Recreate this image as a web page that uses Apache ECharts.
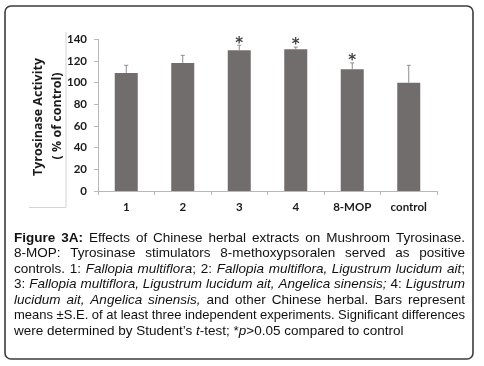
<!DOCTYPE html>
<html><head><meta charset="utf-8">
<script src="https://cdn.jsdelivr.net/npm/echarts@6/dist/echarts.min.js"></script>
<style>html,body{margin:0;padding:0;background:#fff}#c{width:484px;height:366px}</style>
</head><body><div id="c"></div>
<script>
var categories = ['1', '2', '3', '4', '8-MOP', 'control'];
var means = [109, 118.2, 129.9, 130.8, 112.4, 100];
var errors = [7, 7, 4.6, 2, 5.8, 16];
var sig = ['', '', '*', '*', '*', ''];
var yTicks = [0, 20, 40, 60, 80, 100, 120, 140];
var yTitle1 = 'Tyrosinase Activity';
var yTitle2 = '( % of control)';

var captionLines = [
  [['b', 'Figure 3A:'], ['n', ' Effects of Chinese herbal extracts on Mushroom Tyrosinase.']],
  [['n', '8-MOP: Tyrosinase stimulators 8-methoxypsoralen served as positive']],
  [['n', 'controls. 1: '], ['i', 'Fallopia multiflora'], ['n', '; 2: '], ['i', 'Fallopia multiflora, Ligustrum lucidum ait'], ['n', ';']],
  [['n', '3: '], ['i', 'Fallopia multiflora, Ligustrum lucidum ait, Angelica sinensis;'], ['n', ' 4: '], ['i', 'Ligustrum']],
  [['i', 'lucidum ait, Angelica sinensis,'], ['n', ' and other Chinese herbal. Bars represent']],
  [['n', 'means \u00b1S.E. of at least three independent experiments. Significant differences']],
  [['n', 'were determined by Student\u2019s '], ['i', 't'], ['n', '-test; *'], ['i', 'p'], ['n', '>0.05 compared to control']]
];

var CAP_FONT = 'Liberation Sans';
var CAP_SIZE = 13.5;
var capX0 = 14, capX1 = 465, capY0 = 238, capDY = 15.5;

var cnv = document.createElement('canvas');
var ctx = cnv.getContext('2d');
function fontStr(st, size) {
  return (st === 'i' ? 'italic ' : '') + (st === 'b' ? 'bold ' : '') + size + 'px "' + CAP_FONT + '"';
}
function measure(t, st, size) { ctx.font = fontStr(st, size); return ctx.measureText(t).width; }

var graphics = [];
captionLines.forEach(function (runs, li) {
  var words = [[]];
  runs.forEach(function (r) {
    var parts = r[1].split(' ');
    parts.forEach(function (p, k) {
      if (k > 0) words.push([]);
      if (p.length) words[words.length - 1].push([r[0], p]);
    });
  });
  words = words.filter(function (w) { return w.length; });
  var last = li === captionLines.length - 1;
  var size = CAP_SIZE, widths, total, gap;
  for (var iter = 0; iter < 20; iter++) {
    widths = words.map(function (w) {
      return w.reduce(function (s, pc) { return s + measure(pc[1], pc[0], size); }, 0);
    });
    total = widths.reduce(function (a, b) { return a + b; }, 0);
    gap = last ? measure(' ', 'n', size) : (capX1 - capX0 - total) / (words.length - 1);
    if (last || gap >= 3.3) break;
    size -= 0.1;
  }
  var x = capX0;
  var y = capY0 + li * capDY;
  words.forEach(function (w, wi) {
    var px = x;
    w.forEach(function (pc) {
      graphics.push({
        type: 'text', x: px, y: y, silent: true,
        style: {
          text: pc[1], x: 0, y: 0, fill: '#111',
          font: fontStr(pc[0], size),
          verticalAlign: 'middle', align: 'left'
        }
      });
      px += measure(pc[1], pc[0], size);
    });
    x += widths[wi] + gap;
  });
});

graphics.push({
  type: 'rect', silent: true,
  shape: { x: 5, y: 6, width: 468, height: 353, r: 6 },
  style: { fill: 'none', stroke: '#3c3c3c', lineWidth: 1.6 }
});
graphics.push({ type: 'polyline', silent: true, shape: { points: [[66, 32], [66, 207.5], [29, 207.5]] }, style: { fill: 'none', stroke: '#d4d4d4', lineWidth: 1 } });
graphics.push({
  type: 'text', x: 38, y: 117, rotation: Math.PI / 2, silent: true,
  style: { text: yTitle1, x: 0, y: 0, align: 'center', verticalAlign: 'middle', fill: '#1a1a1a', font: 'bold 12.5px "Open Sans"' }
});
graphics.push({
  type: 'text', x: 57, y: 116, rotation: Math.PI / 2, silent: true,
  style: { text: yTitle2, x: 0, y: 0, align: 'center', verticalAlign: 'middle', fill: '#1a1a1a', font: 'bold 12.5px "Open Sans"' }
});

var chart = echarts.init(document.getElementById('c'), null, { renderer: 'canvas' });
var option = {
  animation: false,
  backgroundColor: '#fff',
  grid: { left: 98, right: 47, top: 39.3, bottom: 175, containLabel: false },
  xAxis: {
    type: 'category', data: categories,
    axisLine: { lineStyle: { color: '#b8b8b8', width: 1 } },
    axisTick: { show: true, length: 4, lineStyle: { color: '#b8b8b8' } },
    axisLabel: { color: '#1a1a1a', fontFamily: 'Lato', fontWeight: 'bold', fontSize: 11.5, margin: 10 }
  },
  yAxis: {
    type: 'value', min: yTicks[0], max: yTicks[yTicks.length - 1], interval: 20,
    axisLine: { show: true, lineStyle: { color: '#b8b8b8', width: 1 } },
    axisTick: { show: true, length: 4, lineStyle: { color: '#b8b8b8' } },
    splitLine: { show: false },
    axisLabel: { color: '#1a1a1a', fontFamily: 'Lato', fontWeight: 'bold', fontSize: 11.5, margin: 11 }
  },
  series: [
    {
      type: 'bar', data: means, barWidth: 23,
      itemStyle: { color: '#726d6d' }, silent: true
    },
    {
      type: 'custom', silent: true,
      data: means.map(function (m, i) { return [i, m, errors[i]]; }),
      encode: { x: 0, y: 1 },
      renderItem: function (params, api) {
        var i = api.value(0), m = api.value(1), e = api.value(2);
        var p0 = api.coord([i, m]);
        var p1 = api.coord([i, m + e]);
        var children = [
          { type: 'line', shape: { x1: p0[0], y1: p0[1], x2: p1[0], y2: p1[1] }, style: { stroke: '#8c8c8c', lineWidth: 1 } },
          { type: 'line', shape: { x1: p1[0] - 2, y1: p1[1], x2: p1[0] + 2, y2: p1[1] }, style: { stroke: '#8c8c8c', lineWidth: 1 } }
        ];
        var s = sig[params.dataIndex];
        if (s) {
          children.push({
            type: 'text', x: p1[0], y: p1[1] + 6,
            style: { text: s, x: 0, y: 0, align: 'center', verticalAlign: 'bottom', fill: '#444', font: 'bold 15px "DejaVu Sans"' }
          });
        }
        return { type: 'group', children: children };
      }
    }
  ],
  graphic: { elements: graphics }
};
chart.setOption(option);
</script>
</body></html>
